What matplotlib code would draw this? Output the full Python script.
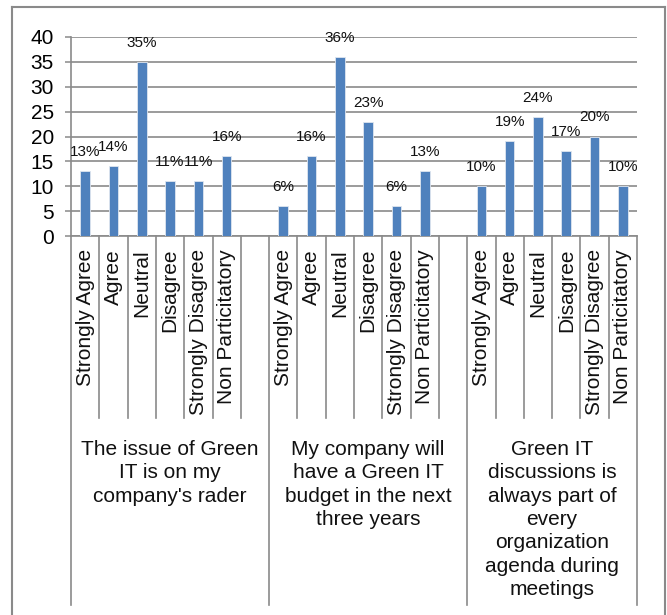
import matplotlib
matplotlib.use("Agg")
import matplotlib.pyplot as plt
from matplotlib.transforms import blended_transform_factory
from matplotlib.lines import Line2D

plt.rcParams['font.family'] = ['Liberation Sans', 'DejaVu Sans']

# Survey data (percent of respondents)
responses = ["Strongly Agree", "Agree", "Neutral", "Disagree",
             "Strongly Disagree", "Non Particitatory"]
statements = [
    "The issue of Green\nIT is on my\ncompany's rader",
    "My company will\nhave a Green IT\nbudget in the next\nthree years",
    "Green IT\ndiscussions is\nalways part of\nevery\norganization\nagenda during\nmeetings",
]
radar_pct = [13, 14, 35, 11, 11, 16]
budget_pct = [6, 16, 36, 23, 6, 13]
agenda_pct = [10, 19, 24, 17, 20, 10]
series = [radar_pct, budget_pct, agenda_pct]
y_ticks = [0, 5, 10, 15, 20, 25, 30, 35, 40]

W, H = 667, 615
fig = plt.figure(figsize=(W / 100, H / 100), dpi=100)
fig.patch.set_facecolor("white")

def fy(py):
    return (H - py) / H

def fx(px):
    return px / W

ax = fig.add_axes([fx(71), fy(236), fx(637) - fx(71), fy(37) - fy(236)])

GRID = "#8a8a8a"
BAR = "#4F81BD"
slots_per_group = len(responses) + 1
n_slots = slots_per_group * len(statements) - 1

for g, vals in enumerate(series):
    xs = [g * slots_per_group + i for i in range(len(vals))]
    ax.bar(xs, vals, width=0.34, color=BAR, zorder=3,
           edgecolor="#dfe6ef", linewidth=0.6)
    for x, v in zip(xs, vals):
        ax.annotate(f"{v}%", (x, v), xytext=(0, 13.7), textcoords="offset points",
                    ha="center", va="center", fontsize=11, color="#111111",
                    zorder=4)

ax.set_xlim(-0.5, n_slots - 0.5)
ax.set_ylim(0, 40)
ax.set_yticks(y_ticks)
ax.set_yticklabels([str(t) for t in y_ticks], fontsize=15)
ax.tick_params(axis="y", length=4.3, width=1.1, color=GRID, pad=8)
ax.set_xticks([])
ax.yaxis.grid(True, color=GRID, linewidth=1.2, zorder=0)
ax.set_axisbelow(True)
for side in ["top", "right"]:
    ax.spines[side].set_visible(False)
ax.spines["left"].set_color(GRID)
ax.spines["left"].set_linewidth(1.2)
ax.spines["bottom"].set_color(GRID)
ax.spines["bottom"].set_linewidth(1.2)

# Two-level category axis below the plot
tr = blended_transform_factory(ax.transData, fig.transFigure)
for s in range(n_slots + 1):
    xb = s - 0.5
    is_group_edge = (s % slots_per_group == 0) or s == n_slots
    bottom = fy(605) if is_group_edge else fy(418)
    ax.add_line(Line2D([xb, xb], [fy(236), bottom], transform=tr,
                       color=GRID, linewidth=1.2, clip_on=False))

for g, vals in enumerate(series):
    for i, lab in enumerate(responses):
        x = g * slots_per_group + i
        ax.text(x, fy(249), lab, transform=tr, rotation=90, ha="center",
                va="top", fontsize=15, color="#111111")
    start = g * slots_per_group - 0.5
    end = min((g + 1) * slots_per_group - 0.5, n_slots - 0.5)
    ax.text((start + end) / 2, fy(440), statements[g], transform=tr,
            ha="center", va="top", fontsize=15, color="#111111",
            linespacing=1.29, multialignment="center")

# Chart-area frame
frame_kw = dict(color=GRID, linewidth=1.5, transform=fig.transFigure)
fig.add_artist(Line2D([fx(12), fx(12)], [fy(7), 0], **frame_kw))
fig.add_artist(Line2D([fx(12), fx(665)], [fy(7), fy(7)], **frame_kw))
fig.add_artist(Line2D([fx(665), fx(665)], [fy(7), 0], **frame_kw))

fig.savefig("out.png", dpi=100, facecolor="white")
